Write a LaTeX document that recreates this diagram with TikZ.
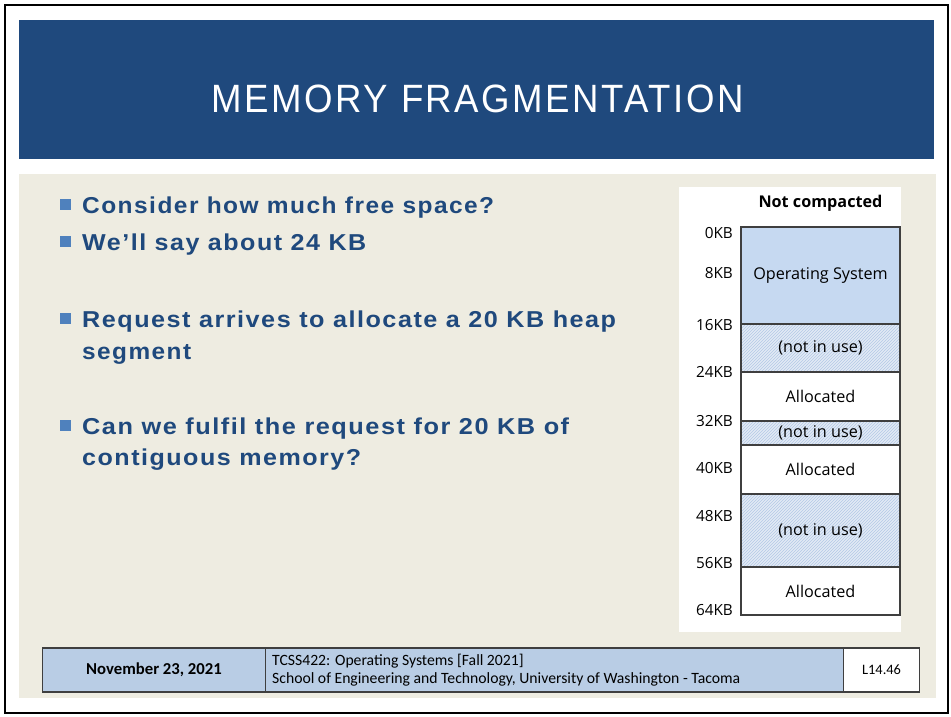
\documentclass[tikz,border=0pt]{standalone}
\usepackage{fontspec}
\usepackage{graphicx}
\usetikzlibrary{patterns}
\setmainfont{Liberation Sans}
\newfontfamily\slidefont{Liberation Sans}[LetterSpace=6]
\newfontfamily\titlefont{Liberation Sans}[LetterSpace=7]
\newfontfamily\calfont{Carlito}
\newfontfamily\memfont{Open Sans}

\definecolor{banner}{HTML}{1F497D}
\definecolor{paper}{HTML}{EEECE1}
\definecolor{ink}{HTML}{1F497D}
\definecolor{bulletblue}{HTML}{4F81BD}
\definecolor{footblue}{HTML}{B9CDE5}
\definecolor{osblue}{HTML}{C6D9F1}
\definecolor{hatchbg}{HTML}{E2EAF5}
\definecolor{hatchline}{HTML}{B3C9E6}
\definecolor{edge}{HTML}{3F3F3F}

% stretch a line of text horizontally to a given width (in pt)
\newsavebox\fitbox
\newcommand\fitto[2]{\sbox\fitbox{#2}%
  \pgfmathsetmacro\fitsx{#1/\the\wd\fitbox}%
  \scalebox{\fitsx}[1]{\usebox\fitbox}}

\tikzset{
  bodyline/.style={anchor=base west, inner sep=0pt, text=ink,
    font=\slidefont\bfseries\fontsize{23}{27}\selectfont},
  bulletsq/.style={fill=bulletblue, minimum size=11pt, inner sep=0pt},
  memblock/.style={draw=edge, line width=1.1pt, minimum width=159pt,
    inner sep=0pt, text=black, font=\memfont\fontsize{16.2}{19}\selectfont},
  freeblock/.style={memblock, preaction={fill=hatchbg},
    pattern=north east lines, pattern color=hatchline},
  kblabel/.style={anchor=east, inner sep=0pt, text=black,
    font=\memfont\fontsize{15.3}{18}\selectfont},
  footcell/.style={draw=edge, line width=1.1pt, minimum height=44pt,
    inner sep=0pt, anchor=west}
}

\begin{document}
\begin{tikzpicture}[x=1pt,y=-1pt]
\useasboundingbox (0,0) rectangle (951,716);
\fill[white] (0,0) rectangle (951,716);
% slide frame
\draw[black, line width=2pt] (5,5) rectangle (948,713);
% title banner
\fill[banner] (19,20) rectangle (934,159);
\node[anchor=base, inner sep=0pt, text=white,
  font=\titlefont\fontsize{39.5}{44}\selectfont] (title) at (477.5,112.3)
  {\fitto{532}{MEMORY FRAGMENTATION}};
% content area
\fill[paper] (19,174) rectangle (936,698);

% bullet points
\node[bulletsq] (b1) at (65.5,204.5) {};
\node[bodyline] (t1) at (82,213.5) {\fitto{412}{Consider how much free space?}};
\node[bulletsq] (b2) at (65.5,241.5) {};
\node[bodyline] (t2) at (82,250.5) {\fitto{284}{We’ll say about 24 KB}};
\node[bulletsq] (b3) at (65.5,318.5) {};
\node[bodyline] (t3) at (82,327.5) {\fitto{534}{Request arrives to allocate a 20 KB heap}};
\node[bodyline] (t3b) at (82,359.3) {\fitto{109}{segment}};
\node[bulletsq] (b4) at (65.5,425) {};
\node[bodyline] (t4) at (82,434) {\fitto{487}{Can we fulfil the request for 20 KB of}};
\node[bodyline] (t4b) at (82,465.7) {\fitto{279}{contiguous memory?}};

% memory map panel
\fill[white] (679,187) rectangle (901,632);
\node[inner sep=0pt, font=\memfont\bfseries\fontsize{16.2}{19}\selectfont]
  (head) at (820.5,203) {Not compacted};

\node[memblock, fill=osblue, minimum height=97pt] (m1) at (820.5,275.5) {Operating System};
\node[freeblock, minimum height=48pt] (m2) at (820.5,348) {(not in use)};
\node[memblock, fill=white, minimum height=49pt] (m3) at (820.5,396.5) {Allocated};
\node[freeblock, minimum height=24pt] (m4) at (820.5,433) {(not in use)};
\node[memblock, fill=white, minimum height=49pt] (m5) at (820.5,469.5) {Allocated};
\node[freeblock, minimum height=73pt] (m6) at (820.5,530.5) {(not in use)};
\node[memblock, fill=white, minimum height=48pt] (m7) at (820.5,591) {Allocated};

\node[kblabel] (k0) at (733,233) {0KB};
\node[kblabel] (k8) at (733,273) {8KB};
\node[kblabel] (k16) at (733,325) {16KB};
\node[kblabel] (k24) at (733,372) {24KB};
\node[kblabel] (k32) at (733,421) {32KB};
\node[kblabel] (k40) at (733,468) {40KB};
\node[kblabel] (k48) at (733,516) {48KB};
\node[kblabel] (k56) at (733,563) {56KB};
\node[kblabel] (k64) at (733,610) {64KB};

% footer
\node[footcell, fill=footblue, minimum width=223pt,
  font=\calfont\bfseries\fontsize{16.7}{19}\selectfont] (date) at (42,670) {November 23, 2021};
\node[footcell, fill=footblue, minimum width=578pt] (course) at (265,670) {};
\node[anchor=west, inner sep=0pt, align=left,
  font=\calfont\fontsize{15.7}{18}\selectfont] (coursetext) at (272,670)
  {TCSS422: Operating Systems [Fall 2021]\\School of Engineering and Technology, University of Washington - Tacoma};
\node[footcell, fill=white, minimum width=76pt,
  font=\calfont\fontsize{14.4}{17}\selectfont] (slideno) at (843,670) {L14.46};
\end{tikzpicture}
\end{document}
